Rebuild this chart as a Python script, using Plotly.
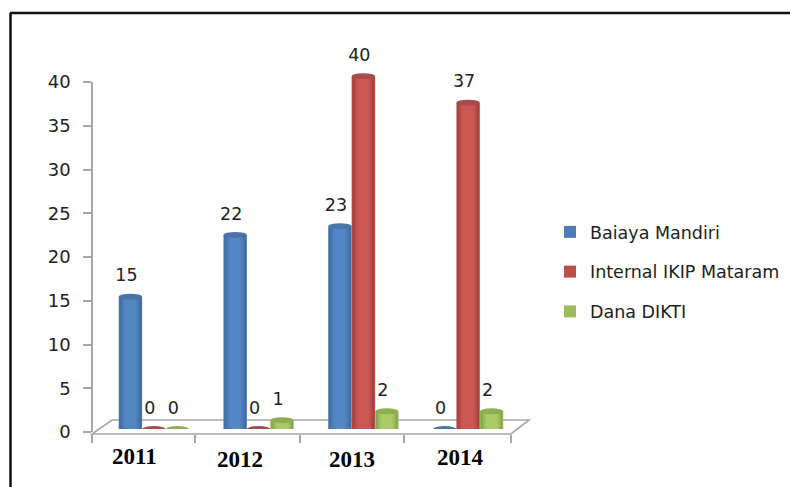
import plotly.graph_objects as go

W, H = 790, 487

years = ["2011", "2012", "2013", "2014"]
baiaya_mandiri = [15, 22, 23, 0]
internal_ikip = [0, 0, 40, 37]
dana_dikti = [0, 1, 2, 2]
y_ticks = [0, 5, 10, 15, 20, 25, 30, 35, 40]

# name, values, slot, edge rgb, centre rgb, cap colour
series = [
    ("Baiaya Mandiri", baiaya_mandiri, -1, (58, 98, 148), (84, 134, 196), "#4A74A8"),
    ("Internal IKIP Mataram", internal_ikip, 0, (146, 58, 56), (204, 88, 85), "#A84B49"),
    ("Dana DIKTI", dana_dikti, 1, (122, 148, 68), (170, 203, 104), "#8FAE52"),
]

def px_x(p):
    return p / W

def px_y(p):
    return 1 - p / H

def mix(a, b, t):
    return "rgb({},{},{})".format(*[round(a[i] + (b[i] - a[i]) * t) for i in range(3)])

PX_CAT = 105.0
X0 = 153.0
X_LEFT, X_RIGHT = 92.0, 512.0
x_range = [(X_LEFT - X0) / PX_CAT, (X_RIGHT - X0) / PX_CAT]
BAR_W = 23.5 / PX_CAT
PX_UNIT = 8.82
BAR_BASE_PX = 429.0
BAR_TOP_PX = 60.0
y_range = [0, (BAR_BASE_PX - BAR_TOP_PX) / PX_UNIT]
CAP_H = 6 / PX_UNIT
LABEL_LIFT = 11 / PX_UNIT
LABEL_SHIFT = -4 / PX_CAT

fig = go.Figure()
shapes = []

frame_col = "#111111"
shapes.append(dict(type="line", xref="paper", yref="paper", x0=px_x(10.5), x1=px_x(10.5), y0=0, y1=px_y(13), line=dict(color=frame_col, width=2.5)))
shapes.append(dict(type="line", xref="paper", yref="paper", x0=px_x(10), x1=1, y0=px_y(13), y1=px_y(13), line=dict(color=frame_col, width=2.5)))

wall = "#A6A6A6"
floor_path = "M {} {} L {} {} L {} {} L {} {} Z".format(
    px_x(92), px_y(434), px_x(112), px_y(420), px_x(529), px_y(420), px_x(511), px_y(434))
shapes.append(dict(type="path", xref="paper", yref="paper", path=floor_path,
                   line=dict(color=wall, width=1.6), fillcolor="white", layer="below"))

layer_widths = [1.0, 0.92, 0.84, 0.76, 0.68, 0.58, 0.46]
for name, values, slot, edge, centre, cap in series:
    xs = [i + slot * BAR_W for i in range(len(years))]
    n = len(layer_widths)
    for k, frac in enumerate(layer_widths):
        shade = (k / (n - 1)) ** 0.8
        fig.add_trace(go.Bar(
            x=xs, y=values, width=BAR_W * frac,
            marker=dict(color=mix(edge, centre, 0.72) if k == 0 else mix(edge, centre, shade), line=dict(width=0)),
            name=name, showlegend=(k == 0), legendgroup=name,
            hoverinfo="skip" if k else None,
        ))
    for x, v in zip(xs, values):
        if v > 0:
            shapes.append(dict(type="circle", xref="x", yref="y", layer="below",
                               x0=x - BAR_W / 2, x1=x + BAR_W / 2, y0=-CAP_H / 2, y1=CAP_H / 2,
                               fillcolor=mix(edge, centre, 0.55), line=dict(width=0)))
        shapes.append(dict(type="circle", xref="x", yref="y",
                           x0=x - BAR_W / 2, x1=x + BAR_W / 2, y0=v - CAP_H / 2, y1=v + CAP_H / 2,
                           fillcolor=cap, line=dict(width=0)))
    fig.add_trace(go.Scatter(
        x=[x + LABEL_SHIFT for x in xs], y=[v + LABEL_LIFT for v in values],
        mode="text", text=[str(v) for v in values], textposition="top center",
        textfont=dict(family="DejaVu Sans", size=17.5, color="#222222"),
        showlegend=False, hoverinfo="skip", cliponaxis=False,
    ))

fig.add_trace(go.Scatter(x=[0, 0], y=[y_ticks[0], y_ticks[-1]], xaxis="x", yaxis="y2", mode="markers",
                         marker=dict(opacity=0), showlegend=False, hoverinfo="skip"))

year_x_nudge = [-0.185, -0.18, -0.105, -0.076]
year_y_px = [456, 459, 459, 457]
annotations = [
    dict(x=i + n, xref="x", y=px_y(p), yref="paper", text=f"<b>{t}</b>", showarrow=False,
         xanchor="center", yanchor="middle",
         font=dict(family="Liberation Serif", size=23, color="#000000"))
    for i, (t, n, p) in enumerate(zip(years, year_x_nudge, year_y_px))
]
tick_nudge = [-1, -3, -3, -3, -1]

fig.update_layout(
    width=W, height=H, autosize=False,
    margin=dict(l=0, r=0, t=0, b=0, autoexpand=False),
    paper_bgcolor="white", plot_bgcolor="rgba(0,0,0,0)",
    barmode="overlay", shapes=shapes, annotations=annotations,
    xaxis=dict(domain=[px_x(X_LEFT), px_x(X_RIGHT)], range=[x_range[0] - 1 / PX_CAT, x_range[1]], anchor="free", position=px_y(434),
               tickmode="array", tickvals=[x_range[0] + j + tick_nudge[j] / PX_CAT for j in range(5)],
               ticktext=["", "", "", "", ""], ticks="outside", ticklen=8, tickcolor=wall, tickwidth=1.6,
               showgrid=False, zeroline=False, showline=False),
    yaxis=dict(domain=[px_y(BAR_BASE_PX), px_y(BAR_TOP_PX)], range=y_range, visible=False),
    yaxis2=dict(domain=[px_y(432), px_y(82)], range=[0, 40], anchor="free", position=px_x(X_LEFT),
                tickmode="array", tickvals=y_ticks, ticks="outside", ticklen=8, tickcolor=wall, tickwidth=1.6,
                ticklabelstandoff=9,
                showline=True, linecolor=wall, linewidth=1.6, showgrid=False, zeroline=False,
                tickfont=dict(family="DejaVu Sans", size=18, color="#222222")),
    legend=dict(x=px_x(550), y=px_y(272), xanchor="left", yanchor="middle", traceorder="grouped",
                tracegroupgap=14, bgcolor="rgba(0,0,0,0)",
                font=dict(family="DejaVu Sans", size=17.5, color="#222222")),
)

fig.write_html("out.html", config={"displayModeBar": False}, post_script="document.body.style.margin='0';")
